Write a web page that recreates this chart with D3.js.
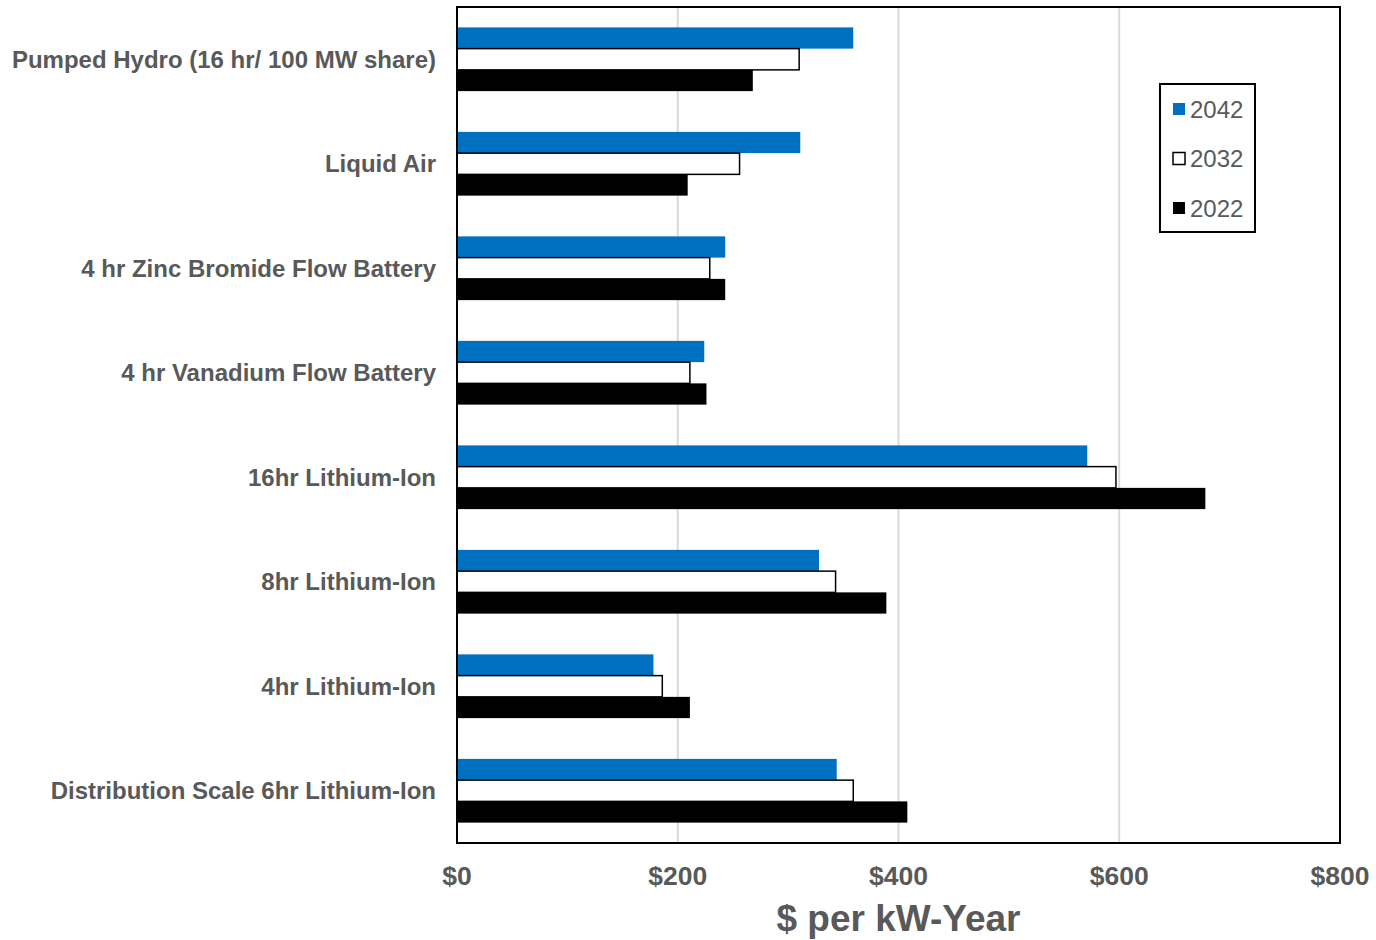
<!DOCTYPE html>
<html>
<head>
<meta charset="utf-8">
<script src="https://cdn.jsdelivr.net/npm/d3@7"></script>
<style>
  body { margin: 0; background: #fff; }
  svg text { font-family: "Liberation Sans", Arial, sans-serif; }
</style>
</head>
<body>
<div id="chart"></div>
<script>
// categories, top to bottom
var categories = ["Pumped Hydro (16 hr/ 100 MW share)", "Liquid Air", "4 hr Zinc Bromide Flow Battery",
  "4 hr Vanadium Flow Battery", "16hr Lithium-Ion", "8hr Lithium-Ion", "4hr Lithium-Ion",
  "Distribution Scale 6hr Lithium-Ion"];
var series = ["2042", "2032", "2022"];
var values2042 = [359, 311, 243, 224, 571, 328, 178, 344];
var values2032 = [310, 256, 229, 211, 597, 343, 186, 359];
var values2022 = [268, 209, 243, 226, 678, 389, 211, 408];
var ticks = [0, 200, 400, 600, 800];

var W = 1376, H = 940;
var margin = {top: 7, left: 457, right: 36, bottom: 97};
var ancho = W - margin.left - margin.right, alto = H - margin.top - margin.bottom;

var svg = d3.select("#chart").append("svg").attr("width", W).attr("height", H);
var g = svg.append("g").attr("transform", `translate(${margin.left},${margin.top})`);

var x = d3.scaleLinear().domain([0, 800]).range([0, ancho]);
var y = d3.scaleBand().domain(categories).range([0, alto]).paddingInner(0.39).paddingOuter(0.195);
var ySub = d3.scaleBand().domain(series).range([0, y.bandwidth()]);

var fills = {"2042": "#0070c0", "2032": "#ffffff", "2022": "#000000"};
var strokes = {"2042": "none", "2032": "#000000", "2022": "none"};
var vals = {"2042": values2042, "2032": values2032, "2022": values2022};

// gridlines
g.selectAll(".grid").data(ticks.slice(1, -1)).enter().append("line")
  .attr("x1", d => x(d)).attr("x2", d => x(d)).attr("y1", 0).attr("y2", alto)
  .style("stroke", "#d9d9d9").style("stroke-width", 2);

// bars
var data = [];
categories.forEach(function(c, i) {
  series.forEach(function(s) { data.push({cat: c, s: s, v: vals[s][i]}); });
});
g.selectAll(".bar").data(data).enter().append("rect")
  .attr("x", 0)
  .attr("y", d => y(d.cat) + ySub(d.s))
  .attr("width", d => x(d.v))
  .attr("height", ySub.bandwidth())
  .style("fill", d => fills[d.s])
  .style("stroke", d => strokes[d.s])
  .style("stroke-width", 1.5);

// frame
g.append("rect").attr("x", 0).attr("y", 0).attr("width", ancho).attr("height", alto)
  .style("fill", "none").style("stroke", "#000").style("stroke-width", 2);

// category labels
g.selectAll(".cat").data(categories).enter().append("text")
  .attr("x", -21).attr("y", d => y(d) + y.bandwidth() / 2)
  .attr("dy", "0.35em").attr("text-anchor", "end")
  .style("font-size", "24px").style("font-weight", "bold").style("fill", "#595959")
  .text(d => d);

// x tick labels
g.selectAll(".tick-lbl").data(ticks).enter().append("text")
  .attr("x", d => x(d)).attr("y", alto + 42).attr("text-anchor", "middle")
  .style("font-size", "26.5px").style("font-weight", "bold").style("fill", "#595959")
  .text(d => "$" + d);

// axis title
g.append("text").attr("x", ancho / 2).attr("y", alto + 88).attr("text-anchor", "middle")
  .style("font-size", "37px").style("font-weight", "bold").style("fill", "#595959")
  .text("$ per kW-Year");

// legend
var leg = svg.append("g").attr("transform", "translate(1160,84)");
leg.append("rect").attr("width", 95).attr("height", 148)
  .style("fill", "#fff").style("stroke", "#000").style("stroke-width", 2);
var items = leg.selectAll(".item").data(series).enter().append("g")
  .attr("transform", (d, i) => `translate(13,${25 + i * 49.5})`);
items.append("rect").attr("x", 0).attr("y", -6).attr("width", 12).attr("height", 12)
  .style("fill", d => fills[d]).style("stroke", d => d === "2032" ? "#000" : "none").style("stroke-width", 1.5);
items.append("text").attr("x", 17).attr("dy", "0.36em")
  .style("font-size", "24px").style("fill", "#595959").text(d => d);
</script>
</body>
</html>
